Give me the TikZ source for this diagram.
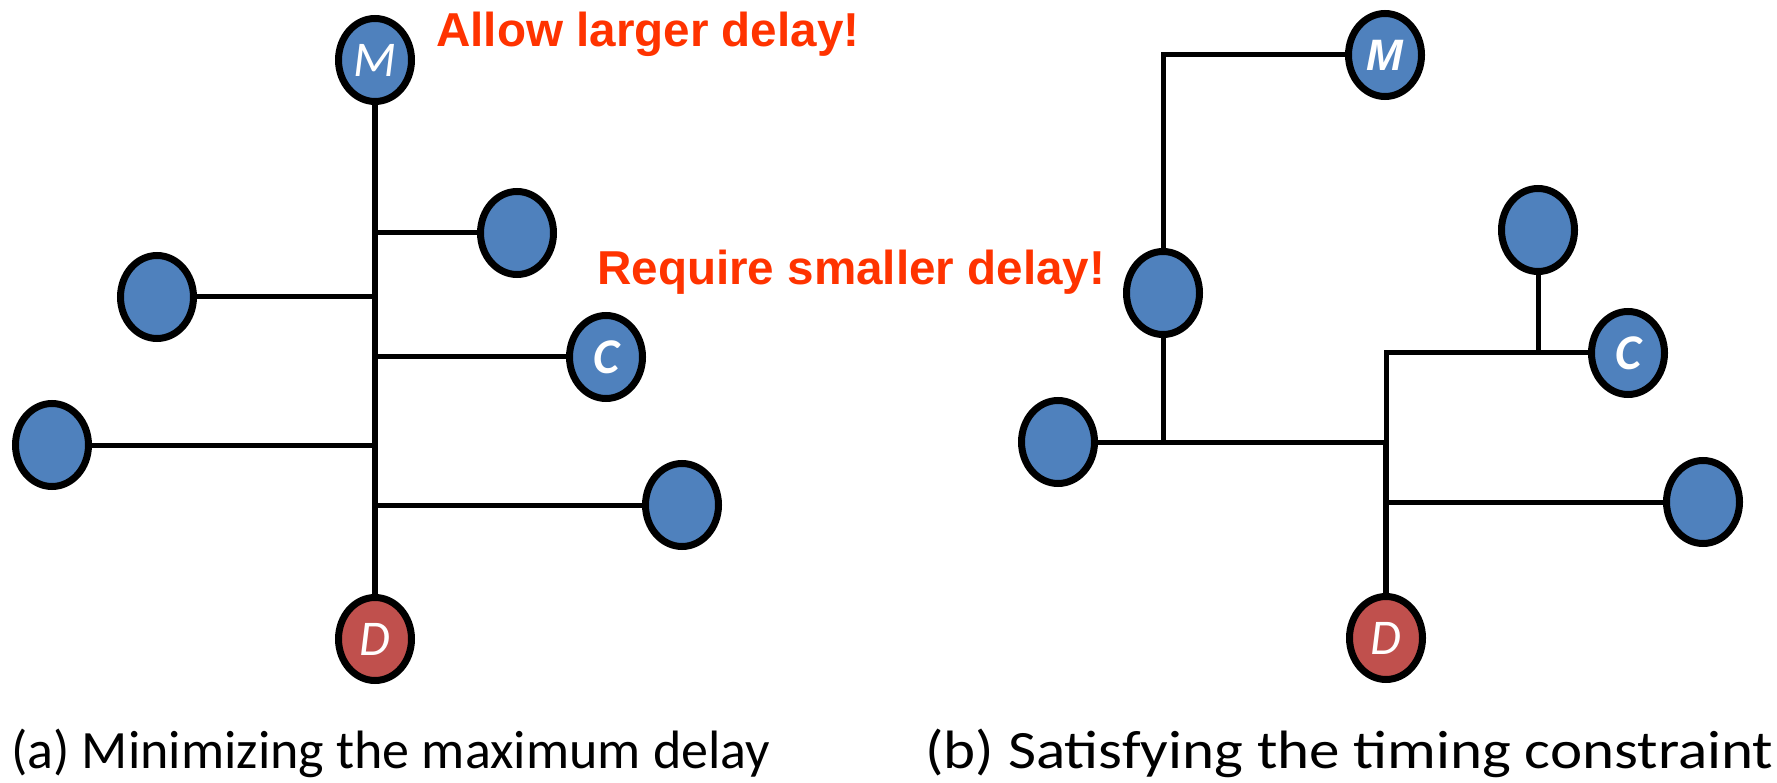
\documentclass[tikz,border=0pt]{standalone}
\usepackage{fontspec}
\setmainfont{Carlito}
\newfontfamily\arialfont{Liberation Sans}
\usetikzlibrary{shapes.geometric}

\definecolor{nodeblue}{HTML}{4F81BD}
\definecolor{nodered}{HTML}{C0504D}
\definecolor{alertred}{HTML}{FF3300}

\tikzset{
  vtx/.style={ellipse, draw=black, line width=7pt, fill=nodeblue,
    minimum width=73pt, minimum height=83pt, inner sep=0pt,
    text=white},
  sinkvtx/.style={vtx, fill=nodered},
  wire/.style={line width=5pt, black},
  trunk/.style={line width=6pt, black},
  lettercal/.style={font=\fontsize{50}{50}\selectfont\itshape},
  letterbold/.style={font=\fontsize{50}{50}\selectfont\bfseries\itshape},
  letterarial/.style={font=\fontsize{44}{44}\selectfont\arialfont\bfseries\itshape},
  alert/.style={anchor=base west, text=alertred, inner sep=0pt,
    font=\fontsize{47.6}{47.6}\selectfont\arialfont\bfseries},
  caption/.style={anchor=base west, inner sep=0pt,
    font=\fontsize{54}{54}\selectfont}
}

\begin{document}
\begin{tikzpicture}[x=1pt, y=-1pt]
  \useasboundingbox (0,0) rectangle (1777,783);

  % (a) star-like tree on a single trunk
  \node[vtx, lettercal]   (aM)  at (375,60)  {M};
  \node[vtx]              (aR1) at (517,233) {};
  \node[vtx]              (aL1) at (157,297) {};
  \node[vtx, letterbold]  (aC)  at (606,357) {C};
  \node[vtx]              (aL2) at (52,445)  {};
  \node[vtx]              (aR3) at (682,505) {};
  \node[sinkvtx, lettercal] (aD) at (375,639) {D};

  \draw[trunk] (aM) -- (aD);
  \draw[wire] (aR1) -- (aR1 -| aM);
  \draw[wire] (aL1) -- (aL1 -| aM);
  \draw[wire] (aC)  -- (aC -| aM);
  \draw[wire] (aL2) -- (aL2 -| aM);
  \draw[wire] (aR3) -- (aR3 -| aM);

  \node[alert] (allow) at (436,47) {Allow larger delay!};

  % (b) tree meeting the timing constraint
  \node[vtx, letterarial] (bM)  at (1385,55)  {M};
  \node[vtx]              (bN)  at (1163,293) {};
  \node[vtx]              (bT)  at (1538,230) {};
  \node[vtx, letterbold]  (bC)  at (1628,353) {C};
  \node[vtx]              (bL)  at (1058,442) {};
  \node[vtx]              (bR3) at (1703,502) {};
  \node[sinkvtx, lettercal] (bD) at (1386,638) {D};

  \draw[wire] (bM) -| (bN);
  \draw[wire] (bN) -- (bN |- bL);
  \draw[wire] (bL) -- (bL -| bD);
  \draw[trunk] (bD) -- (bD |- bL);
  \draw[wire] (bD |- bL) |- (bC);
  \draw[wire] (bT) -- (bT |- bC);
  \draw[wire] (bR3) -- (bR3 -| bD);

  \node[alert] (require) at (597,285) {Require smaller delay!};

  % captions; the second one is set wider
  \node[caption] (capa) at (11,768)  {(a) Minimizing the maximum delay};
  \node[caption] (capb) at (925,768)
    {\scalebox{1.13}[1]{(b) Satisfying the timing constraint}};
\end{tikzpicture}
\end{document}
